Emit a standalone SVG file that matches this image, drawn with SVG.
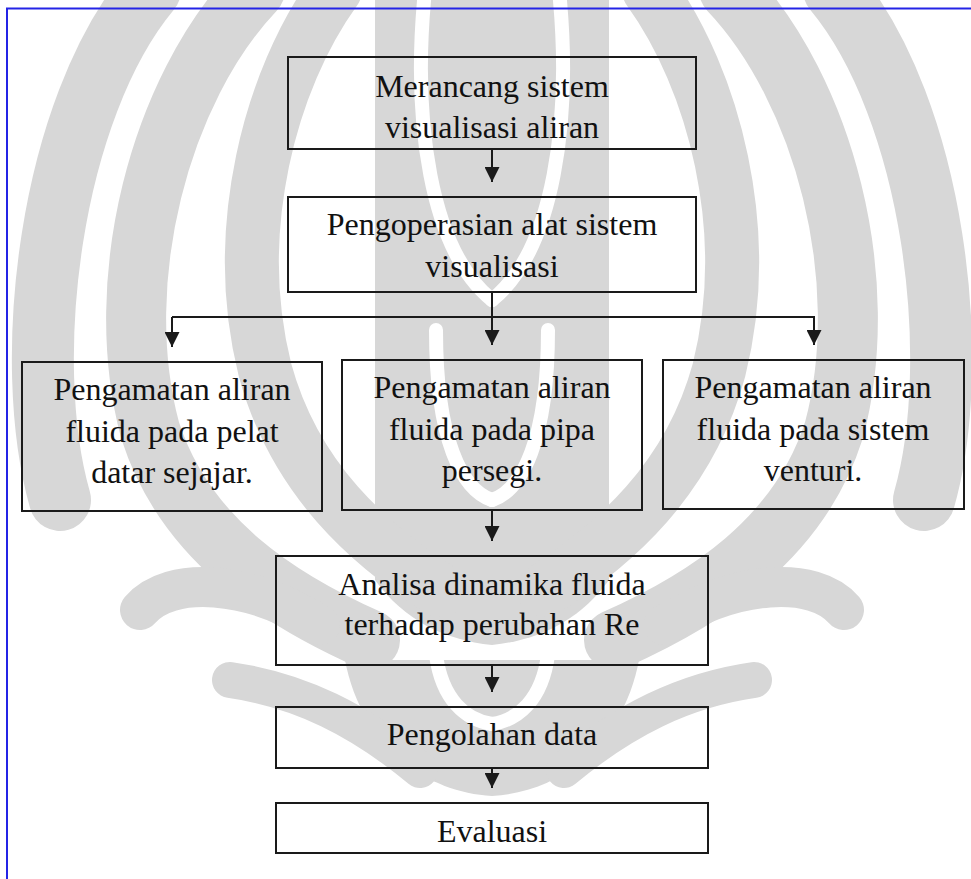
<svg xmlns="http://www.w3.org/2000/svg" width="971" height="879" viewBox="0 0 971 879">
<style>
.wm{fill:none;stroke:#d7d7d7;stroke-linecap:round}
.wg{fill:none;stroke:#ffffff;stroke-linecap:round}
.wmf{fill:#d7d7d7}
.box{fill:none;stroke:#1a1a1a;stroke-width:2}
.t{font-family:"Liberation Serif","Times New Roman",serif;font-size:32px;fill:#111;text-anchor:middle}
.c{fill:none;stroke:#1a1a1a;stroke-width:2}
</style>
<defs>
<marker id="ah" markerUnits="userSpaceOnUse" markerWidth="15" markerHeight="15" refX="7.5" refY="15" orient="0" viewBox="0 0 15 15">
<path d="M0,0 L15,0 L7.5,15 Z" fill="#1a1a1a"/>
</marker>
<g id="wmhalf">
<path class="wm" stroke-width="62" d="M150,-10 C50,110 20,360 60,500"/>
<path class="wm" stroke-width="60" d="M255,-10 C160,90 110,280 150,430 C185,540 280,600 370,640"/>
<path class="wm" stroke-width="54" d="M335,-10 C270,80 230,230 265,370 C295,480 370,545 440,590"/>
<path class="wm" stroke-width="40" d="M140,610 C170,575 250,580 320,625"/>
<path class="wm" stroke-width="36" d="M230,680 C300,690 360,720 420,770"/>
</g>
<g id="wmgap">
<path class="wg" stroke-width="14" d="M425,-10 C412,120 430,250 492,300"/>
<path class="wg" stroke-width="14" d="M436,330 C436,440 462,490 492,500"/>
<path class="wg" stroke-width="14" d="M436,655 C442,700 466,720 492,724"/>
</g>
</defs>
<g id="watermark">
<rect x="0" y="0" width="971" height="879" fill="#ffffff"/>
<path class="wmf" d="M375,-5 L609,-5 L609,580 C580,620 540,640 492,645 C444,640 404,620 375,580 Z"/>
<path class="wmf" d="M345,660 C360,740 420,792 492,796 C564,792 624,740 639,660 Z"/>
<use href="#wmhalf"/>
<use href="#wmhalf" transform="translate(984,0) scale(-1,1)"/>
<use href="#wmgap"/>
<use href="#wmgap" transform="translate(984,0) scale(-1,1)"/>
</g>
<g id="frame">
<path d="M7,879 L7,8.5 L971,8.5" fill="none" stroke="#2424e6" stroke-width="2"/>
</g>
<g id="connectors">
<path class="c" d="M492,149 L492,182" marker-end="url(#ah)"/>
<path class="c" d="M492,292 L492,345" marker-end="url(#ah)"/>
<path class="c" d="M172,317 L814,317 L814,345" marker-end="url(#ah)"/>
<path class="c" d="M172,317 L172,347" marker-end="url(#ah)"/>
<path class="c" d="M492,510 L492,541" marker-end="url(#ah)"/>
<path class="c" d="M492,665 L492,692" marker-end="url(#ah)"/>
<path class="c" d="M492,768 L492,788" marker-end="url(#ah)"/>
</g>
<g id="n1"><rect class="box" x="288" y="57" width="408" height="92"/><text class="t" x="492" y="97">Merancang sistem</text><text class="t" x="492" y="138">visualisasi aliran</text></g>
<g id="n2"><rect class="box" x="288" y="197" width="408" height="95"/><text class="t" x="492" y="235">Pengoperasian alat sistem</text><text class="t" x="492" y="277">visualisasi</text></g>
<g id="n3"><rect class="box" x="22" y="362" width="300" height="149"/><text class="t" x="172" y="400">Pengamatan aliran</text><text class="t" x="172" y="442">fluida pada pelat</text><text class="t" x="172" y="483">datar sejajar.</text></g>
<g id="n4"><rect class="box" x="342" y="360" width="300" height="150"/><text class="t" x="492" y="398">Pengamatan aliran</text><text class="t" x="492" y="440">fluida pada pipa</text><text class="t" x="492" y="481">persegi.</text></g>
<g id="n5"><rect class="box" x="663" y="360" width="301" height="149"/><text class="t" x="813" y="398">Pengamatan aliran</text><text class="t" x="813" y="440">fluida pada sistem</text><text class="t" x="813" y="481">venturi.</text></g>
<g id="n6"><rect class="box" x="276" y="556" width="432" height="109"/><text class="t" x="492" y="595">Analisa dinamika fluida</text><text class="t" x="492" y="635">terhadap perubahan Re</text></g>
<g id="n7"><rect class="box" x="276" y="707" width="432" height="61"/><text class="t" x="492" y="745">Pengolahan data</text></g>
<g id="n8"><rect class="box" x="276" y="803" width="432" height="50"/><text class="t" x="492" y="842">Evaluasi</text></g>
</svg>
